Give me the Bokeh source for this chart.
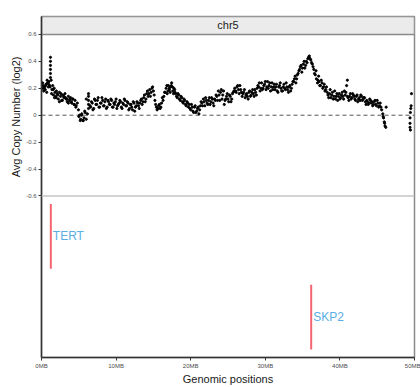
from bokeh.plotting import figure
from bokeh.models import Range1d, FixedTicker, Span, ColumnDataSource, Label, Title
from bokeh.embed import file_html
from bokeh.resources import INLINE
from bokeh.core.properties import value

FONT = "Liberation Sans"

# ---- data (positions in MB, log2 copy number) ----
pos_mb = [
    0.1, 0.2, 0.3, 0.4, 0.5, 0.6, 0.7, 0.8, 0.9, 1.0, 1.1, 1.2, 1.2, 1.2, 1.2, 1.2, 1.2, 1.3, 1.4, 1.5, 1.6, 1.7, 1.8, 1.9, 2.0,
    2.1, 2.25, 2.4, 2.55, 2.7, 2.85, 3.0, 3.15, 3.3, 3.45, 3.6, 3.75, 3.9, 4.05, 4.2, 4.35, 4.5, 4.65, 4.8,
    4.95, 5.1, 5.25, 5.4, 5.55, 5.7, 5.85, 6.0, 6.15,
    6.3, 6.3, 6.3, 6.3, 6.3,
    6.5, 6.7, 6.9, 7.1, 7.3, 7.5, 7.7, 7.9, 8.1, 8.3, 8.5, 8.7, 8.9, 9.1, 9.3, 9.5, 9.7, 9.9, 10.1, 10.3, 10.5, 10.7, 10.9,
    11.1, 11.3, 11.5, 11.7, 11.9, 12.1, 12.3, 12.5, 12.7, 12.9, 13.1, 13.3, 13.5, 13.7,
    13.9, 14.1, 14.3, 14.5, 14.7, 14.9, 15.1, 15.3,
    15.5, 15.7, 15.9, 16.1, 16.3, 16.5,
    16.7, 16.85, 17.0, 17.15, 17.3, 17.45, 17.6, 17.75, 17.9,
    18.1, 18.3, 18.5, 18.7, 18.9, 19.1, 19.3, 19.5, 19.7, 19.9,
    20.1, 20.3, 20.5, 20.7, 20.9, 21.1, 21.3, 21.5,
    21.7, 21.9, 22.1, 22.3, 22.5, 22.7, 22.9, 23.1, 23.3, 23.5,
    23.7, 23.9, 24.1, 24.3, 24.5, 24.7, 24.9, 25.1, 25.3, 25.5, 25.7, 25.9,
    26.1, 26.3, 26.5, 26.7, 26.9,
    27.1, 27.3, 27.5, 27.7, 27.9, 28.1, 28.3, 28.5, 28.7, 28.9, 29.1,
    29.3, 29.5, 29.7, 29.9, 30.1, 30.3, 30.5, 30.7, 30.9, 31.1, 31.3, 31.5, 31.7, 31.9, 32.1, 32.3, 32.5, 32.7, 32.9,
    33.1, 33.3, 33.5, 33.7, 33.9,
    34.1, 34.3, 34.5, 34.7, 34.9, 35.1, 35.3, 35.5, 35.7, 35.9, 36.1, 36.3, 36.5,
    36.7, 36.85, 37.0, 37.15, 37.3, 37.5, 37.7, 37.9, 38.1, 38.3,
    38.5, 38.7, 38.9, 39.1, 39.3, 39.5, 39.7, 39.9, 40.1, 40.3, 40.5, 40.7, 40.9, 41.0, 41.0,
    41.2, 41.4, 41.6, 41.8, 42.0, 42.2, 42.4, 42.6, 42.8, 43.0, 43.2, 43.4, 43.6,
    43.8, 44.0, 44.2, 44.4, 44.6, 44.8, 45.0, 45.2, 45.4, 45.6,
    45.75, 45.85, 45.95, 46.05, 46.15, 46.2,
    49.4, 49.4, 49.4, 49.45, 49.45, 49.5, 49.55, 49.6,
]
copy_log2 = [
    0.20, 0.22, 0.18, 0.21, 0.19, 0.23, 0.17, 0.24, 0.21, 0.25, 0.22, 0.28, 0.31, 0.34, 0.37, 0.40, 0.43, 0.26, 0.19, 0.22, 0.15, 0.20, 0.17, 0.14, 0.18,
    0.16, 0.12, 0.17, 0.14, 0.11, 0.15, 0.13, 0.16, 0.12, 0.10, 0.14, 0.11, 0.13, 0.09, 0.12, 0.08, 0.11, 0.07, 0.09,
    0.04, 0.00, -0.03, 0.01, -0.04, -0.02, 0.02, -0.03, 0.01,
    0.05, 0.08, 0.11, 0.14, 0.16,
    0.07, 0.10, 0.04, 0.12, 0.08, 0.11, 0.06, 0.09, 0.13, 0.07, 0.10, 0.05, 0.11, 0.08, 0.12, 0.06, 0.09, 0.10, 0.05, 0.08, 0.11,
    0.06, 0.09, 0.12, 0.07, 0.10, 0.04, 0.08, 0.06, 0.10, 0.03, 0.07, 0.09, 0.05, 0.11, 0.08,
    0.13, 0.10, 0.16, 0.14, 0.19, 0.17, 0.21, 0.15,
    0.08, 0.04, 0.07, 0.05, 0.09, 0.11,
    0.17, 0.20, 0.16, 0.22, 0.19, 0.21, 0.24, 0.18, 0.20,
    0.17, 0.14, 0.16, 0.12, 0.14, 0.10, 0.12, 0.08, 0.10, 0.06,
    0.05, 0.08, 0.03, 0.06, 0.02, 0.05, 0.01, 0.07,
    0.09, 0.12, 0.07, 0.11, 0.08, 0.13, 0.10, 0.12, 0.07, 0.11,
    0.14, 0.18, 0.11, 0.19, 0.15, 0.08, 0.12, 0.16, 0.10, 0.14, 0.12, 0.17,
    0.20, 0.17, 0.22, 0.16, 0.19,
    0.14, 0.17, 0.13, 0.16, 0.12, 0.18, 0.15, 0.19, 0.14, 0.17, 0.20,
    0.21, 0.18, 0.24, 0.20, 0.23, 0.19, 0.25, 0.22, 0.18, 0.24, 0.21, 0.19, 0.23, 0.17, 0.22, 0.20, 0.18, 0.23, 0.19,
    0.21, 0.17, 0.22, 0.20, 0.25,
    0.27, 0.24, 0.30, 0.33, 0.36, 0.32, 0.38, 0.35, 0.40, 0.42, 0.44, 0.41, 0.38,
    0.34, 0.30, 0.27, 0.24, 0.29, 0.22, 0.26, 0.20, 0.23, 0.19,
    0.17, 0.13, 0.19, 0.15, 0.12, 0.18, 0.14, 0.11, 0.16, 0.13, 0.17, 0.12, 0.15, 0.22, 0.26,
    0.14, 0.11, 0.16, 0.13, 0.15, 0.12, 0.14, 0.10, 0.13, 0.15, 0.11, 0.13, 0.10,
    0.11, 0.08, 0.12, 0.09, 0.07, 0.10, 0.08, 0.11, 0.06, 0.09,
    0.04, 0.01, -0.02, -0.05, -0.08, -0.09,
    0.06, -0.02, -0.06, -0.09, -0.11, 0.02, 0.05, 0.07,
]
# second pass of probes (fills out the point cloud)
pos_mb_b = [
    0.15, 0.35, 0.55, 0.75, 0.95, 1.15, 1.35, 1.55, 1.75, 1.95,
    2.2, 2.4, 2.6, 2.8, 3.0, 3.2, 3.4, 3.6, 3.8, 4.0, 4.2, 4.4, 4.6,
    5.0, 5.2, 5.4, 5.6, 5.8, 6.0,
    6.6, 6.8, 7.0, 7.2, 7.4, 7.6, 7.8, 8.0, 8.2, 8.4, 8.6, 8.8, 9.0, 9.2, 9.4, 9.6, 9.8, 10.0, 10.2, 10.4,
    10.6, 10.8, 11.0, 11.2, 11.4, 11.6, 11.8, 12.0, 12.2, 12.4, 12.6, 12.8, 13.0, 13.2, 13.4, 13.6, 13.8,
    14.0, 14.2, 14.4, 14.6, 14.8, 15.0, 15.2,
    15.4, 15.6, 15.8, 16.0, 16.2, 16.4,
    16.6, 16.8, 16.95, 17.1, 17.25, 17.4, 17.55, 17.7, 17.85,
    18.0, 18.2, 18.4, 18.6, 18.8, 19.0, 19.2, 19.4, 19.6, 19.8,
    20.0, 20.2, 20.4, 20.6, 20.8, 21.0, 21.2, 21.4, 21.6,
    21.8, 22.0, 22.2, 22.4, 22.6, 22.8, 23.0, 23.2, 23.4, 23.6,
    23.8, 24.0, 24.2, 24.4, 24.6, 24.8, 25.0, 25.2, 25.4, 25.6, 25.8, 26.0,
    26.2, 26.4, 26.6, 26.8, 27.0,
    27.2, 27.4, 27.6, 27.8, 28.0, 28.2, 28.4, 28.6, 28.8, 29.0, 29.2,
    29.4, 29.6, 29.8, 30.0, 30.2, 30.4, 30.6, 30.8, 31.0, 31.2, 31.4, 31.6, 31.8, 32.0, 32.2, 32.4, 32.6,
    32.8, 33.0, 33.2, 33.4, 33.6, 33.8,
    34.0, 34.2, 34.4, 34.6, 34.8, 35.0, 35.2, 35.4, 35.6, 35.8, 36.0, 36.2, 36.4, 36.6,
    36.8, 37.05, 37.2, 37.4, 37.6, 37.8, 38.0, 38.2, 38.4,
    38.6, 38.8, 39.0, 39.2, 39.4, 39.6, 39.8, 40.0, 40.2, 40.4, 40.6, 40.8,
    41.1, 41.3, 41.5, 41.7, 41.9, 42.1, 42.3, 42.5, 42.7, 42.9, 43.1, 43.3, 43.5,
    43.7, 43.9, 44.1, 44.3, 44.5, 44.7, 44.9, 45.1, 45.3, 45.5,
    45.8, 46.0, 46.1,
]
copy_log2_b = [
    0.16, 0.24, 0.20, 0.22, 0.26, 0.23, 0.21, 0.16, 0.19, 0.13,
    0.13, 0.15, 0.10, 0.16, 0.11, 0.14, 0.13, 0.12, 0.09, 0.12, 0.10, 0.12, 0.08,
    0.06, -0.01, -0.04, 0.00, -0.04, 0.03,
    0.12, 0.06, 0.09, 0.05, 0.11, 0.08, 0.13, 0.06, 0.09, 0.11, 0.07, 0.12, 0.06, 0.10, 0.08, 0.11, 0.06, 0.08, 0.12, 0.07,
    0.09, 0.10, 0.05, 0.08, 0.11, 0.07, 0.09, 0.05, 0.08, 0.04, 0.09, 0.06, 0.10, 0.07, 0.09, 0.12, 0.10,
    0.15, 0.12, 0.18, 0.16, 0.14, 0.20, 0.18,
    0.11, 0.06, 0.05, 0.08, 0.06, 0.13,
    0.14, 0.17, 0.22, 0.18, 0.20, 0.17, 0.22, 0.21, 0.16,
    0.19, 0.16, 0.13, 0.15, 0.11, 0.13, 0.09, 0.11, 0.07, 0.09,
    0.08, 0.04, 0.06, 0.02, 0.07, 0.03, 0.06, 0.04, 0.10,
    0.07, 0.10, 0.13, 0.09, 0.11, 0.08, 0.13, 0.09, 0.12, 0.15,
    0.11, 0.15, 0.17, 0.12, 0.18, 0.11, 0.14, 0.12, 0.15, 0.10, 0.16, 0.18,
    0.18, 0.21, 0.19, 0.22, 0.17,
    0.16, 0.19, 0.15, 0.14, 0.17, 0.14, 0.17, 0.16, 0.19, 0.15, 0.22,
    0.24, 0.20, 0.19, 0.22, 0.25, 0.21, 0.20, 0.24, 0.21, 0.19, 0.23, 0.21, 0.18, 0.21, 0.24, 0.18, 0.21,
    0.20, 0.24, 0.19, 0.21, 0.18, 0.23,
    0.25, 0.29, 0.27, 0.31, 0.34, 0.37, 0.35, 0.40, 0.37, 0.39, 0.43, 0.42, 0.39, 0.36,
    0.31, 0.33, 0.26, 0.25, 0.22, 0.24, 0.21, 0.18, 0.21,
    0.15, 0.16, 0.13, 0.17, 0.14, 0.12, 0.16, 0.14, 0.12, 0.15, 0.14, 0.18,
    0.17, 0.13, 0.14, 0.12, 0.16, 0.14, 0.11, 0.15, 0.12, 0.11, 0.14, 0.12, 0.13,
    0.08, 0.10, 0.09, 0.11, 0.10, 0.08, 0.11, 0.07, 0.09, 0.07,
    0.06, -0.01, -0.06,
]

genes = ["TERT", "SKP2"]
gene_pos_mb = [1.25, 36.15]
gene_y0 = [0.55, 0.05]
gene_y1 = [0.95, 0.45]
gene_label_y = [0.75, 0.25]

y_ticks = [-0.6, -0.4, -0.2, 0, 0.2, 0.4, 0.6]
y_tick_labels = ["-0.6", "-0.4", "-0.2", "0", "0.2", "0.4", "0.6"]
x_ticks = [0, 10, 20, 30, 40, 50]
x_tick_labels = ["0MB", "10MB", "20MB", "30MB", "40MB", "50MB"]

BORDER = "#8a8a8a"
AXIS = "#333333"

# frame: top strip (18px) + copy-number panel (162px) + gene panel (162px)
PX_PER_UNIT = 135.0
STRIP_TOP = 0.6 + 18 / PX_PER_UNIT
Y_BOTTOM = -0.6 - 162 / PX_PER_UNIT

p = figure(width=420, height=387, x_range=Range1d(0, 50), y_range=Range1d(Y_BOTTOM, STRIP_TOP),
           output_backend="svg", toolbar_location=None,
           min_border_left=41, min_border_right=6, min_border_top=16, min_border_bottom=0)
p.grid.visible = False
p.outline_line_color = BORDER
p.outline_line_width = 1.5
p.extra_y_ranges = {"genes": Range1d(0, 342 / 162)}

# y axis (copy number)
p.yaxis.ticker = FixedTicker(ticks=y_ticks)
p.yaxis.major_label_overrides = {t: l for t, l in zip(y_ticks, y_tick_labels)}
p.yaxis.minor_tick_line_color = None
p.yaxis.major_tick_out = 3
p.yaxis.major_tick_in = 0
p.yaxis.major_label_standoff = 2
p.yaxis.major_label_text_font = FONT
p.yaxis.major_label_text_font_size = "6px"
p.yaxis.major_label_text_color = "#4d4d4d"
p.yaxis.axis_line_color = AXIS
p.yaxis.axis_line_width = 1.5
p.yaxis.major_tick_line_color = AXIS

# y axis title, placed against the copy-number panel
p.add_layout(Title(text="Avg Copy Number (log2)", align="right", offset=40, standoff=4,
                   text_font=FONT, text_font_size="11px", text_font_style="normal",
                   text_color="#1a1a1a"), "left")

# x axis
p.xaxis.ticker = FixedTicker(ticks=x_ticks)
p.xaxis.major_label_overrides = {t: l for t, l in zip(x_ticks, x_tick_labels)}
p.xaxis.minor_tick_line_color = None
p.xaxis.major_tick_out = 3
p.xaxis.major_tick_in = 0
p.xaxis.major_label_standoff = 2
p.xaxis.major_label_text_font = FONT
p.xaxis.major_label_text_font_size = "6px"
p.xaxis.major_label_text_color = "#4d4d4d"
p.xaxis.axis_line_color = AXIS
p.xaxis.axis_line_width = 1.5
p.xaxis.major_tick_line_color = AXIS
p.xaxis.axis_label = "Genomic positions"
p.xaxis.axis_label_text_font = FONT
p.xaxis.axis_label_text_font_style = "normal"
p.xaxis.axis_label_text_font_size = "11px"
p.xaxis.axis_label_text_color = "#1a1a1a"
p.xaxis.axis_label_standoff = 1

# strip
p.quad(left=[0], right=[50], bottom=[0.6], top=[STRIP_TOP], fill_color="#ebebeb",
       line_color=BORDER, line_width=1.5)
p.add_layout(Label(x=25, y=0.6 + 9 / PX_PER_UNIT, text="chr5", text_align="center",
                   text_baseline="middle", text_font=FONT, text_font_size="11px",
                   text_color="#1a1a1a"))

# panel separator
p.add_layout(Span(location=-0.6, dimension="width", line_color="#c4c4c4", line_width=1.5))

# zero line
p.segment(x0=[0], y0=[0], x1=[50], y1=[0], line_color="#555555", line_dash="4 3", line_width=1)

src = ColumnDataSource(dict(x=pos_mb + pos_mb_b, y=copy_log2 + copy_log2_b))
p.scatter("x", "y", source=src, size=2.2, color="black")

gsrc = ColumnDataSource(dict(x=gene_pos_mb, y0=gene_y0, y1=gene_y1, ly=gene_label_y, name=genes))
p.segment(x0="x", y0="y0", x1="x", y1="y1", source=gsrc, line_color="#f4666f", line_width=2,
          y_range_name="genes")
p.text(x="x", y="ly", text="name", source=gsrc, x_offset=2, text_align="left",
       text_baseline="middle", text_color="#5aaee3", text_font=value(FONT),
       text_font_size="12px", y_range_name="genes")

open("out.html", "w").write(file_html(p, INLINE))
